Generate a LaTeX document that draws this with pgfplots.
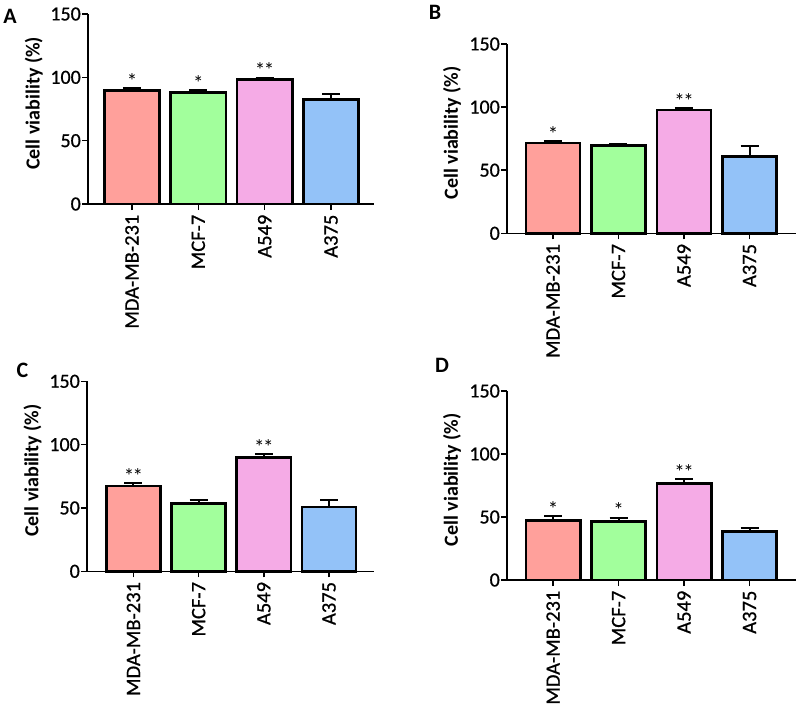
\documentclass[border=0pt]{standalone}
\usepackage{fontspec}
\setmainfont{Carlito}
\newfontfamily\medfont{Carlito}[FakeBold=0.7]
\usepackage{pgfplots}
\pgfplotsset{compat=1.18}
\definecolor{cred}{HTML}{FFA09B}
\definecolor{cgreen}{HTML}{A2FF9C}
\definecolor{cpink}{HTML}{F5ABE6}
\definecolor{cblue}{HTML}{93C2F8}
\newcommand{\tickfont}{\fontsize{20.5bp}{23bp}\medfont}
\newcommand{\yfont}{\fontsize{20bp}{23bp}\medfont}
\newcommand{\labelfont}{\fontsize{20bp}{24bp}\selectfont\bfseries}
\newcommand{\astfont}{\fontsize{21bp}{22bp}\selectfont}
\newcommand{\letterfont}{\fontsize{22bp}{24bp}\selectfont\bfseries}
\newcommand{\dstar}{*\kern-1.5bp*}
\tikzset{ast/.style={anchor=base, yshift=0bp, font=\astfont, inner sep=0pt}}
\pgfplotsset{
 panel/.style={
  scale only axis, anchor=south west,
  axis x line*=bottom, axis y line*=left,
  axis line style={line width=1.6bp, black},
  ymin=0, ymax=150, ytick={0,50,100,150},
  xtick={0,1,2,3}, xticklabels={MDA-MB-231,MCF-7,A549,A375},
  tick align=outside, major tick length=6bp,
  tick style={line width=1.6bp, black},
  /pgf/number format/assume math mode=true,
  yticklabel style={font=\yfont, inner sep=1bp},
  xticklabel style={font=\tickfont, rotate=90, anchor=east, inner sep=4.5bp},
  ylabel={Cell viability (\%)},
  ylabel style={font=\labelfont, at={(axis description cs:-0.19,0.53)}, anchor=center},
  clip=false,
 },
 bb/.style={ybar, bar width=0.83, bar shift=0pt, fill=#1, draw=black, line width=2.6bp,
  error bars/.cd, y dir=plus, y explicit,
  error bar style={line width=2bp, black},
  error mark options={rotate=90, line width=2bp, mark size=9bp, black}},
}
\begin{document}
\begin{tikzpicture}
\path[use as bounding box] (0,0) rectangle (796bp,-709bp);
% Panel A
\begin{axis}[panel, at={(88bp,-204bp)}, width=286bp, height=190bp, xmin=-0.663, xmax=3.648]
\addplot[bb=cred] coordinates {(0,89.5) +- (0,1.8)};
\addplot[bb=cgreen] coordinates {(1,88.0) +- (0,1.8)};
\addplot[bb=cpink] coordinates {(2,98.5) +- (0,1.2)};
\addplot[bb=cblue] coordinates {(3,82.5) +- (0,4.5)};
\node[ast] at (axis cs:0,91.3) {*};
\node[ast] at (axis cs:1,89.8) {*};
\node[ast] at (axis cs:2,99.7) {\dstar};
\end{axis}
% Panel B
\begin{axis}[panel, at={(507bp,-233.3bp)}, width=289bp, height=189.3bp, xmin=-0.702, xmax=3.71]
\addplot[bb=cred] coordinates {(0,71.5) +- (0,1.5)};
\addplot[bb=cgreen] coordinates {(1,69.8) +- (0,1.3)};
\addplot[bb=cpink] coordinates {(2,97.8) +- (0,1.4)};
\addplot[bb=cblue] coordinates {(3,61.0) +- (0,8.3)};
\node[ast] at (axis cs:0,73.0) {*};
\node[ast] at (axis cs:2,99.2) {\dstar};
\end{axis}
% Panel C
\begin{axis}[panel, at={(87bp,-571.3bp)}, width=287bp, height=190bp, xmin=-0.713, xmax=3.69]
\addplot[bb=cred] coordinates {(0,67.2) +- (0,2.2)};
\addplot[bb=cgreen] coordinates {(1,53.5) +- (0,2.8)};
\addplot[bb=cpink] coordinates {(2,89.8) +- (0,2.8)};
\addplot[bb=cblue] coordinates {(3,50.8) +- (0,5.2)};
\node[ast] at (axis cs:0,69.4) {\dstar};
\node[ast] at (axis cs:2,92.6) {\dstar};
\end{axis}
% Panel D
\begin{axis}[panel, at={(507bp,-580bp)}, width=289bp, height=189bp, xmin=-0.705, xmax=3.71]
\addplot[bb=cred] coordinates {(0,47.3) +- (0,3.5)};
\addplot[bb=cgreen] coordinates {(1,46.3) +- (0,3.2)};
\addplot[bb=cpink] coordinates {(2,76.5) +- (0,3.6)};
\addplot[bb=cblue] coordinates {(3,38.6) +- (0,2.6)};
\node[ast] at (axis cs:0,50.8) {*};
\node[ast] at (axis cs:1,49.5) {*};
\node[ast] at (axis cs:2,80.1) {\dstar};
\end{axis}
\node[font=\letterfont] at (10bp,-16bp) {A};
\node[font=\letterfont] at (435bp,-12bp) {B};
\node[font=\letterfont] at (22.5bp,-370bp) {C};
\node[font=\letterfont] at (442bp,-365bp) {D};
\end{tikzpicture}
\end{document}
